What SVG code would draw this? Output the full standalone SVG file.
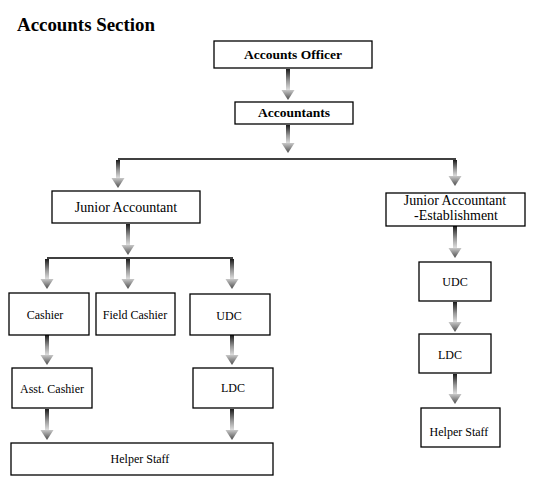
<svg xmlns="http://www.w3.org/2000/svg" width="550" height="500" viewBox="0 0 550 500">
<defs>
<linearGradient id="gShaft" x1="0" y1="0" x2="0" y2="1">
<stop offset="0" stop-color="#1a1a1a"/>
<stop offset="0.55" stop-color="#9a9a9a"/>
<stop offset="1" stop-color="#e6e6e6"/>
</linearGradient>
<linearGradient id="gHead" x1="0" y1="0" x2="0" y2="1">
<stop offset="0" stop-color="#c8c8c8"/>
<stop offset="1" stop-color="#4a4a4a"/>
</linearGradient>
</defs>
<style>
.box{fill:#fff;stroke:#000;stroke-width:1.3}
.ln{stroke:#000;stroke-width:1.3;fill:none}
.sh{fill:url(#gShaft)}
.hd{fill:url(#gHead)}
.t{font-family:"Liberation Serif","Times New Roman",serif;font-size:12px;fill:#000;text-anchor:middle}
.tl{font-size:14px}
.tb{font-weight:bold;font-size:13.5px}
</style>
<rect width="550" height="500" fill="#fff"/>
<text x="17" y="31" font-family="Liberation Serif,'Times New Roman',serif" font-weight="bold" font-size="18" textLength="138" lengthAdjust="spacingAndGlyphs">Accounts Section</text>

<g id="connectors">
<line class="ln" x1="118" y1="159" x2="456" y2="159"/>
<line class="ln" x1="47" y1="258" x2="233" y2="258"/>
<!-- arrows: shaft rect + head triangle -->
<rect class="sh" x="286" y="69" width="4" height="22"/><path class="hd" d="M281.5 90 L294.5 90 L288 100 Z"/>
<rect class="sh" x="286" y="125" width="4" height="19"/><path class="hd" d="M281.5 143 L294.5 143 L288 153 Z"/>
<rect class="sh" x="116" y="160" width="4" height="19"/><path class="hd" d="M111.5 178 L124.5 178 L118 188 Z"/>
<rect class="sh" x="453" y="160" width="4" height="17"/><path class="hd" d="M448.5 176 L461.5 176 L455 186 Z"/>
<rect class="sh" x="126" y="224" width="4" height="22"/><path class="hd" d="M121.5 245 L134.5 245 L128 255 Z"/>
<rect class="sh" x="45" y="259" width="4" height="21"/><path class="hd" d="M40.5 279 L53.5 279 L47 289 Z"/>
<rect class="sh" x="126" y="259" width="4" height="21"/><path class="hd" d="M121.5 279 L134.5 279 L128 289 Z"/>
<rect class="sh" x="230" y="259" width="4" height="21"/><path class="hd" d="M225.5 279 L238.5 279 L232 289 Z"/>
<rect class="sh" x="45" y="335" width="4" height="21"/><path class="hd" d="M40.5 355 L53.5 355 L47 365 Z"/>
<rect class="sh" x="230" y="335" width="4" height="21"/><path class="hd" d="M225.5 355 L238.5 355 L232 365 Z"/>
<rect class="sh" x="45" y="409" width="4" height="22"/><path class="hd" d="M40.5 430 L53.5 430 L47 440 Z"/>
<rect class="sh" x="230" y="409" width="4" height="22"/><path class="hd" d="M225.5 430 L238.5 430 L232 440 Z"/>
<rect class="sh" x="453" y="226" width="4" height="23"/><path class="hd" d="M448.5 248 L461.5 248 L455 258 Z"/>
<rect class="sh" x="453" y="302" width="4" height="21"/><path class="hd" d="M448.5 322 L461.5 322 L455 332 Z"/>
<rect class="sh" x="453" y="374" width="4" height="21"/><path class="hd" d="M448.5 394 L461.5 394 L455 404 Z"/>
</g>

<g id="n-officer"><rect class="box" x="214" y="41" width="158" height="27"/><text class="t tb" x="293" y="59">Accounts Officer</text></g>
<g id="n-accountants"><rect class="box" x="235" y="102" width="118" height="22"/><text class="t tb" x="294" y="117">Accountants</text></g>
<g id="n-ja"><rect class="box" x="52" y="191" width="148" height="32"/><text class="t tl" x="126" y="212">Junior Accountant</text></g>
<g id="n-jae"><rect class="box" x="386" y="193" width="139" height="33"/><text class="t tl" x="455" y="205">Junior Accountant</text><text class="t tl" x="456" y="220">-Establishment</text></g>
<g id="n-cashier"><rect class="box" x="9" y="293" width="80" height="42"/><text class="t" x="45" y="319">Cashier</text></g>
<g id="n-fieldcashier"><rect class="box" x="96" y="293" width="79" height="42"/><text class="t" x="135" y="319">Field Cashier</text></g>
<g id="n-udc-l"><rect class="box" x="190" y="294" width="80" height="41"/><text class="t" x="229" y="320">UDC</text></g>
<g id="n-asst"><rect class="box" x="12" y="368" width="80" height="40"/><text class="t" x="52" y="393">Asst. Cashier</text></g>
<g id="n-ldc-l"><rect class="box" x="193" y="368" width="80" height="40"/><text class="t" x="233" y="392">LDC</text></g>
<g id="n-helper-l"><rect class="box" x="11" y="443" width="262" height="32"/><text class="t" x="140" y="463">Helper Staff</text></g>
<g id="n-udc-r"><rect class="box" x="419" y="262" width="72" height="39"/><text class="t" x="455" y="286">UDC</text></g>
<g id="n-ldc-r"><rect class="box" x="419" y="334" width="72" height="39"/><text class="t" x="450" y="359">LDC</text></g>
<g id="n-helper-r"><rect class="box" x="421" y="408" width="79" height="39"/><text class="t" x="459" y="436">Helper Staff</text></g>
</svg>
